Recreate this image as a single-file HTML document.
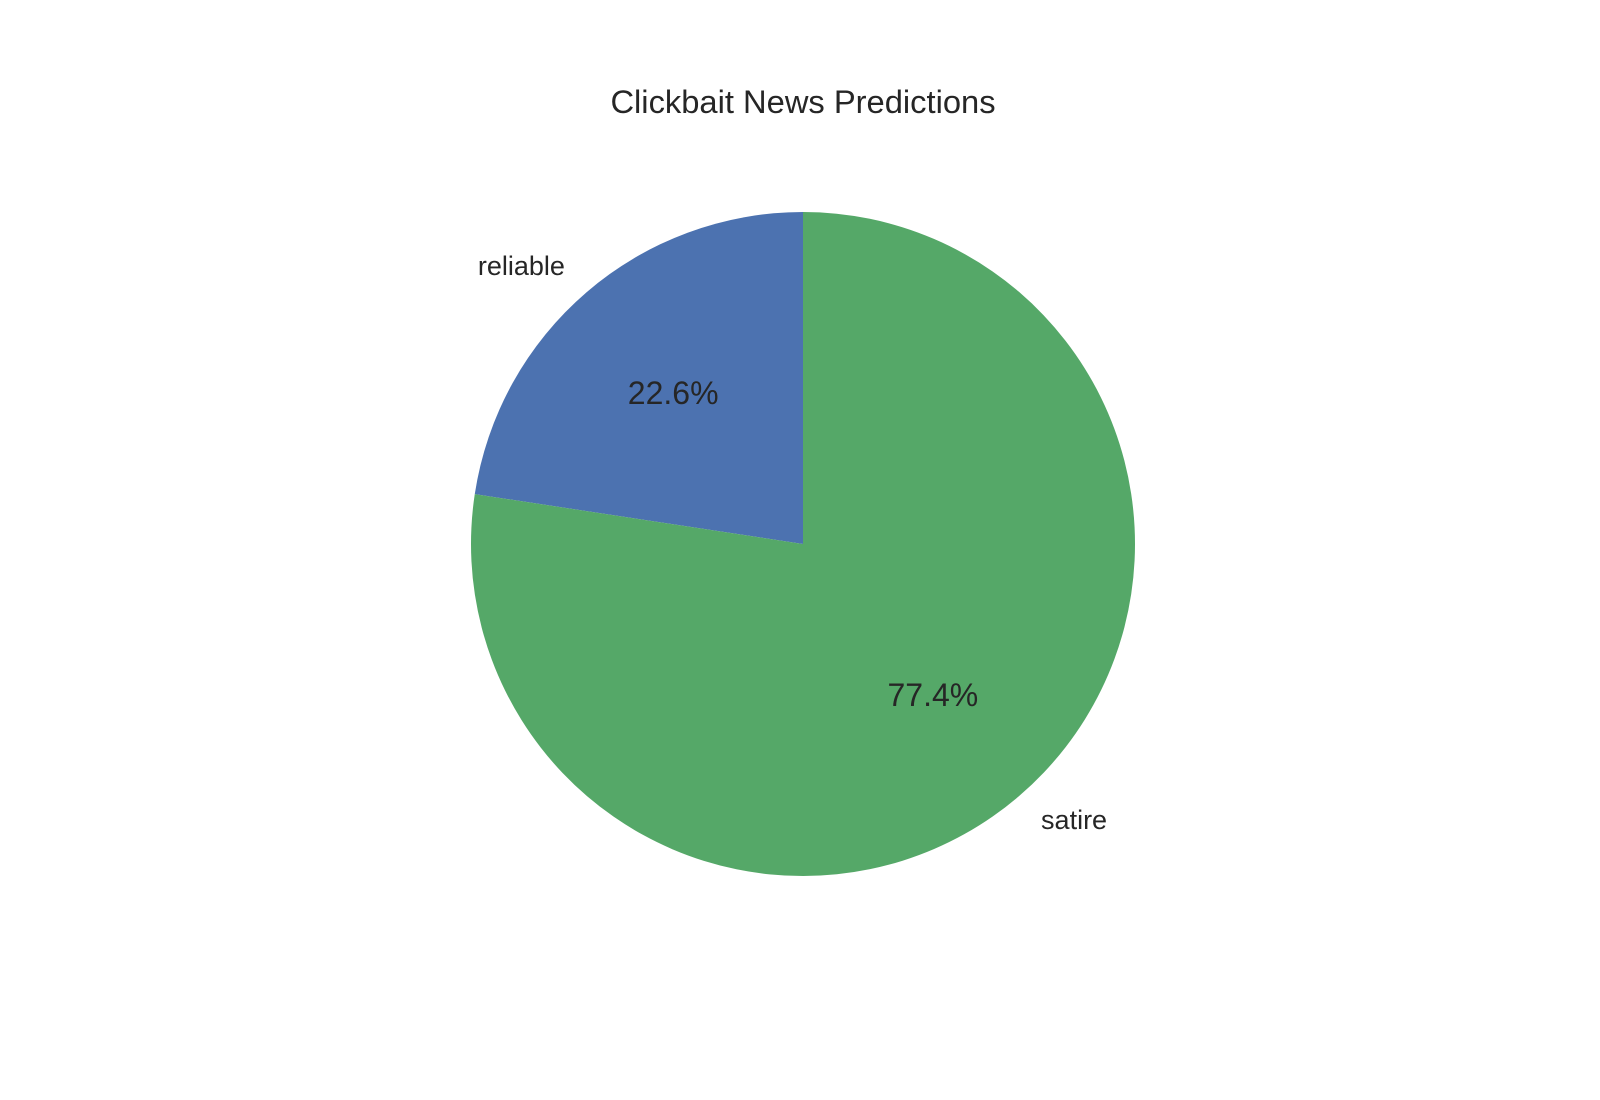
<!DOCTYPE html>
<html><head><meta charset="utf-8"><style>
html,body{margin:0;padding:0;background:#fff;}
svg{display:block;font-family:"Liberation Sans",Arial,sans-serif;}
</style></head><body>
<svg id="chart" width="1600" height="1100" viewBox="0 0 1600 1100">
<text x="803" y="113" text-anchor="middle" font-size="32.7" fill="#262626">Clickbait News Predictions</text>
<g id="slices"></g>
</svg>
<script>
const categories = ["reliable", "satire"];
const values = [22.6, 77.4];
const pctLabels = ["22.6%", "77.4%"];
const colors = ["#4c72b0", "#55a868"];

const svg = document.getElementById('slices');
const NS = 'http://www.w3.org/2000/svg';
const cx = 803, cy = 544, r = 332;
const total = values.reduce((a, b) => a + b, 0);
function pt(deg, d) { const a = deg * Math.PI / 180; return [cx + d * Math.cos(a), cy - d * Math.sin(a)]; }
let start = 90;
values.forEach((v, i) => {
  const sweep = v / total * 360;
  const end = start + sweep;
  const [x1, y1] = pt(start, r), [x2, y2] = pt(end, r);
  const large = sweep > 180 ? 1 : 0;
  const p = document.createElementNS(NS, 'path');
  p.setAttribute('d', `M${cx},${cy} L${x1},${y1} A${r},${r} 0 ${large} 0 ${x2},${y2} Z`);
  p.setAttribute('fill', colors[i]);
  
  
  svg.appendChild(p);
  const mid = start + sweep / 2;
  const [lx, ly] = pt(mid, r * 1.1);
  const t = document.createElementNS(NS, 'text');
  t.setAttribute('x', lx); t.setAttribute('y', ly + 8);
  t.setAttribute('text-anchor', Math.cos(mid * Math.PI / 180) < 0 ? 'end' : 'start');
  t.setAttribute('font-size', '27'); t.setAttribute('fill', '#262626');
  t.textContent = categories[i];
  
  
  svg.appendChild(t);
  const [px, py] = pt(mid, r * 0.6);
  const q = document.createElementNS(NS, 'text');
  q.setAttribute('x', px); q.setAttribute('y', py + 11);
  q.setAttribute('text-anchor', 'middle');
  q.setAttribute('font-size', '32'); q.setAttribute('fill', '#262626');
  q.textContent = pctLabels[i];
  
  
  svg.appendChild(q);
  start = end;
});
</script>
</body></html>
